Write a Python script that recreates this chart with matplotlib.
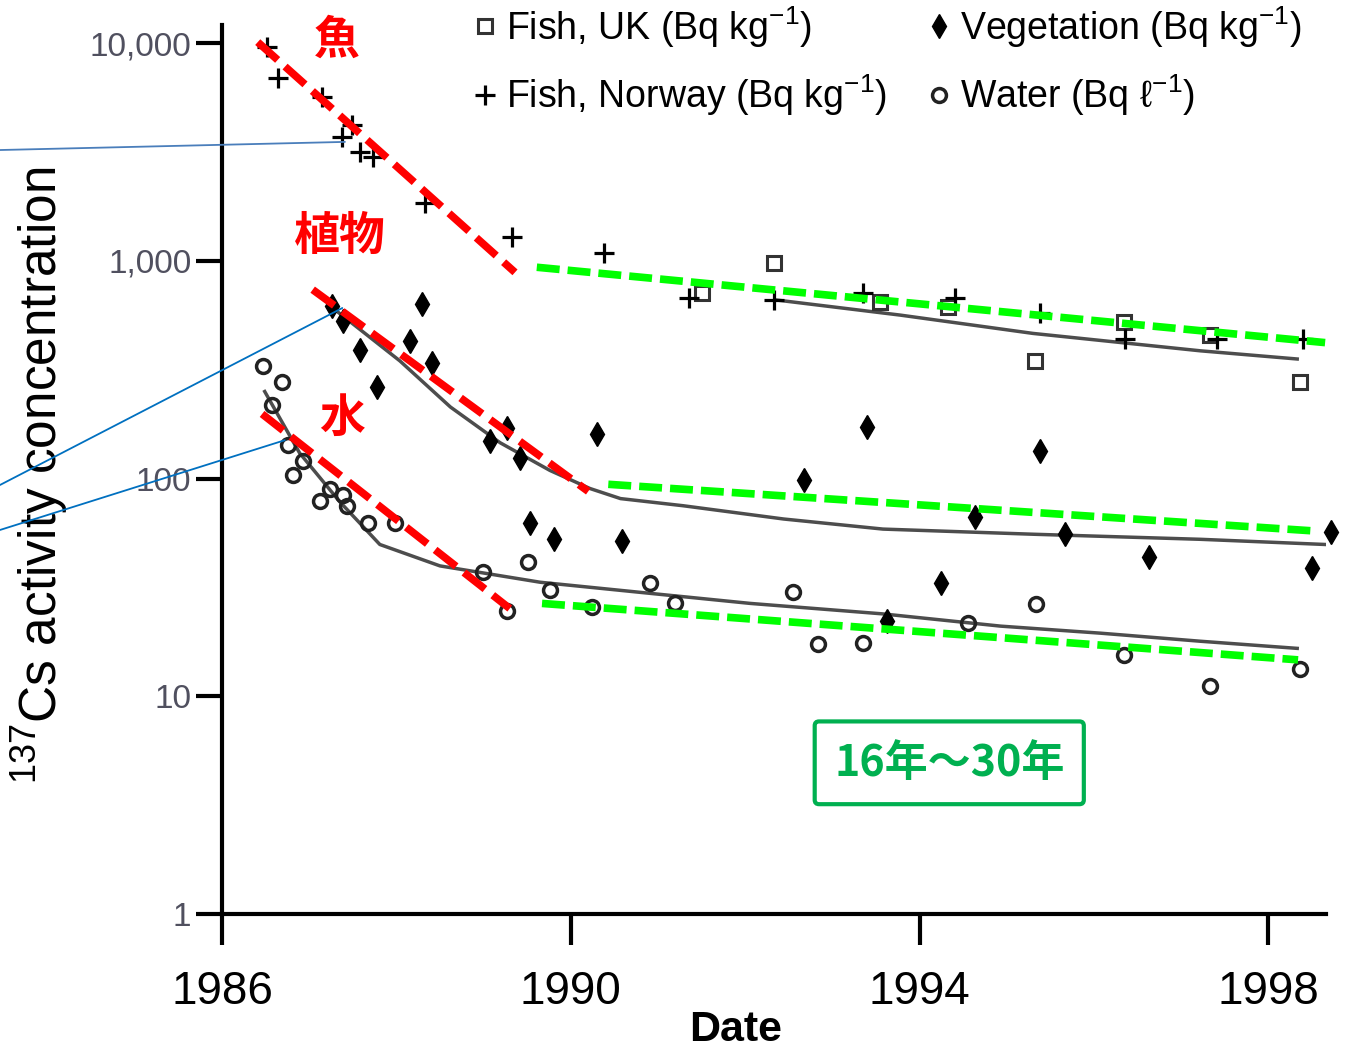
import numpy as np
import matplotlib.pyplot as plt
from matplotlib.ticker import NullLocator

plt.rcParams['font.family'] = ['Liberation Sans', 'DejaVu Sans']
plt.rcParams['mathtext.fontset'] = 'custom'
plt.rcParams['mathtext.rm'] = 'Liberation Sans'
plt.rcParams['mathtext.it'] = 'Liberation Sans:italic'
plt.rcParams['mathtext.bf'] = 'Liberation Sans:bold'

# ---- data (year, Bq) ----
norway_t = [1986.52, 1986.64, 1987.15, 1987.49, 1987.38, 1987.58, 1987.73, 1988.33, 1989.33,
            1990.38, 1991.35, 1992.33, 1993.35, 1994.41, 1995.38, 1996.36, 1997.41, 1998.40]
norway_v = [9580, 6930, 5650, 4220, 3710, 3160, 2990, 1840, 1280,
            1090, 676, 662, 713, 676, 575, 439, 439, 439]

uk_t = [1991.51, 1992.33, 1993.55, 1994.32, 1995.32, 1996.34, 1997.33, 1998.36]
uk_v = [713, 975, 648, 614, 347, 522, 454, 279]

veg_t = [1987.26, 1987.39, 1987.58, 1987.78, 1988.16, 1988.29, 1988.41, 1989.07, 1989.27,
         1989.42, 1989.53, 1989.81, 1990.30, 1990.59, 1992.67, 1993.40, 1993.63, 1994.24,
         1994.64, 1995.38, 1995.67, 1996.63, 1998.50, 1998.72]
veg_v = [621, 528, 390, 262, 426, 634, 339, 148, 170,
         124, 62.5, 52.6, 160, 51.4, 98, 172, 22.2, 33.1,
         66.7, 134, 55.5, 43.8, 38.9, 56.7]

water_t = [1986.47, 1986.69, 1986.57, 1986.76, 1986.93, 1986.81, 1987.12, 1987.24, 1987.39,
           1987.43, 1987.67, 1987.98, 1988.99, 1989.27, 1989.51, 1989.76, 1990.24, 1990.91,
           1991.20, 1992.55, 1992.83, 1993.35, 1994.55, 1995.34, 1996.34, 1997.33, 1998.36]
water_v = [328, 279, 218, 143, 120, 104, 79.2, 90, 83.6,
           75.0, 62.5, 62.5, 37.2, 24.7, 41.5, 30.7, 25.8, 33.1,
           26.7, 30.0, 17.4, 17.5, 21.7, 26.4, 15.4, 11.1, 13.4]

# fitted curves from the original figure
fish_fit_t = [1992.34, 1993.78, 1995.30, 1997.22, 1998.33]
fish_fit_v = [662, 563, 464, 386, 354]
veg_fit_t = [1987.30, 1988.04, 1988.62, 1989.19, 1989.76, 1990.22, 1990.57, 1991.29,
             1992.44, 1993.58, 1995.30, 1997.22, 1998.65]
veg_fit_v = [594, 347, 213, 146, 109, 90, 80.9, 75.0, 65.2, 58.6, 55.5, 52.6, 49.8]
water_fit_t = [1986.49, 1986.89, 1987.35, 1987.81, 1988.50, 1989.65, 1990.91, 1992.06,
               1993.58, 1994.93, 1996.07, 1997.22, 1998.33]
water_fit_v = [251, 131, 78.3, 49.8, 39.7, 33.4, 29.7, 26.7, 23.9, 21.0, 19.5, 17.9, 16.6]

# early (red) and late (green) decay trends
red_t = [(1986.41, 1989.36), (1987.04, 1990.20), (1986.46, 1989.30)]
red_v = [(10100, 885), (737, 87.3), (198, 25.3)]
green_t = [(1989.61, 1998.65), (1990.43, 1998.57), (1989.67, 1998.34)]
green_v = [(934, 421), (94.1, 57.3), (26.7, 14.7)]

labels_jp = ['魚', '植物', '水']
labels_jp_t = [1987.32, 1987.35, 1987.38]
labels_jp_v = [10300, 1290, 188]

yticks = [1, 10, 100, 1000, 10000]
ytick_labels = ['1', '10', '100', '1,000', '10,000']
xticks = [1986, 1990, 1994, 1998]

fig = plt.figure(figsize=(13.47, 10.61), dpi=100)
ax = fig.add_axes([0.1648, 0.1385, 0.8196, 0.8379])
ax.set_yscale('log')
ax.set_ylim(1, 10 ** 4.0827)
ax.set_xlim(1986, 1998.66)

fit_kw = dict(color='#4d4d4d', lw=2.5, zorder=2)
ax.plot(fish_fit_t, fish_fit_v, **fit_kw)
ax.plot(veg_fit_t, veg_fit_v, **fit_kw)
ax.plot(water_fit_t, water_fit_v, **fit_kw)

h_uk, = ax.plot(uk_t, uk_v, ls='none', marker='s', ms=10, mfc='none', mec='#333333',
                mew=2.2, zorder=3, clip_on=False)
h_no, = ax.plot(norway_t, norway_v, ls='none', marker='+', ms=15, mec='black',
                mew=2.3, zorder=3, clip_on=False)
h_veg, = ax.plot(veg_t, veg_v, ls='none', marker='d', ms=12, color='black',
                 zorder=3, clip_on=False)
h_wat, = ax.plot(water_t, water_v, ls='none', marker='o', ms=10, mfc='none',
                 mec='#222222', mew=2.5, zorder=3, clip_on=False)

for t, v in zip(red_t, red_v):
    ax.plot(t, v, color='#ff0000', lw=5.5, dashes=(3.5, 1.3), zorder=4)
for t, v in zip(green_t, green_v):
    ax.plot(t, v, color='#00ff00', lw=5.5, dashes=(3.0, 1.05), zorder=4)

for s, t, v in zip(labels_jp, labels_jp_t, labels_jp_v):
    ax.text(t, v, s, color='#ff0000', fontsize=33, fontweight='bold',
            family=['Noto Sans CJK JP'], ha='center', va='center', zorder=5)

ax.text(1994.34, 4.95, '16年～30年', color='#00b050', fontsize=31, fontweight='bold',
        family=['Noto Sans CJK JP'], ha='center', va='center', zorder=5,
        bbox=dict(boxstyle='round,pad=0.45,rounding_size=0.1', fc='white',
                  ec='#00b050', lw=3))

# blue leader lines coming in from the left edge
lead_xy = [(1987.41, 3516), (1987.38, 607), (1986.72, 150)]
lead_from = [0.8586, 0.5429, 0.5005]
lead_col = ['#4a7ebb', '#0070c0', '#0070c0']
for xy, fy, c in zip(lead_xy, lead_from, lead_col):
    ax.annotate('', xy=xy, xycoords='data', xytext=(0, fy), textcoords='figure fraction',
                arrowprops=dict(arrowstyle='-', color=c, lw=1.3, shrinkA=0, shrinkB=0),
                annotation_clip=False)

ax.spines['top'].set_visible(False)
ax.spines['right'].set_visible(False)
ax.spines['left'].set_linewidth(3)
ax.spines['bottom'].set_linewidth(3)

ax.set_yticks(yticks)
ax.set_yticklabels(ytick_labels)
ax.yaxis.set_minor_locator(NullLocator())
ax.set_xticks(xticks)
ax.tick_params(axis='y', length=19, width=3, pad=3, labelsize=24, labelcolor='#50505f')
ax.tick_params(axis='x', length=22, width=3, pad=18, labelsize=33)

ax.set_xlabel('Date', fontsize=31, fontweight='bold')
ax.xaxis.set_label_coords(0.465, -0.108)
ax.set_ylabel('$^{137}$Cs activity concentration', fontsize=37)
ax.yaxis.set_label_coords(-0.138, 0.494)

fig.legend([h_uk, h_no, h_veg, h_wat],
           ['Fish, UK (Bq kg$^{-1}$)', 'Fish, Norway (Bq kg$^{-1}$)',
            'Vegetation (Bq kg$^{-1}$)', 'Water (Bq ℓ$^{-1}$)'],
           ncol=2, loc='upper left', bbox_to_anchor=(470 / 1347, 1 - 4 / 1061),
           frameon=False, fontsize=27, borderpad=0, borderaxespad=0,
           handlelength=0.8, handletextpad=0.15, columnspacing=1.0, labelspacing=0.6)

fig.savefig('out.png', dpi=100)
